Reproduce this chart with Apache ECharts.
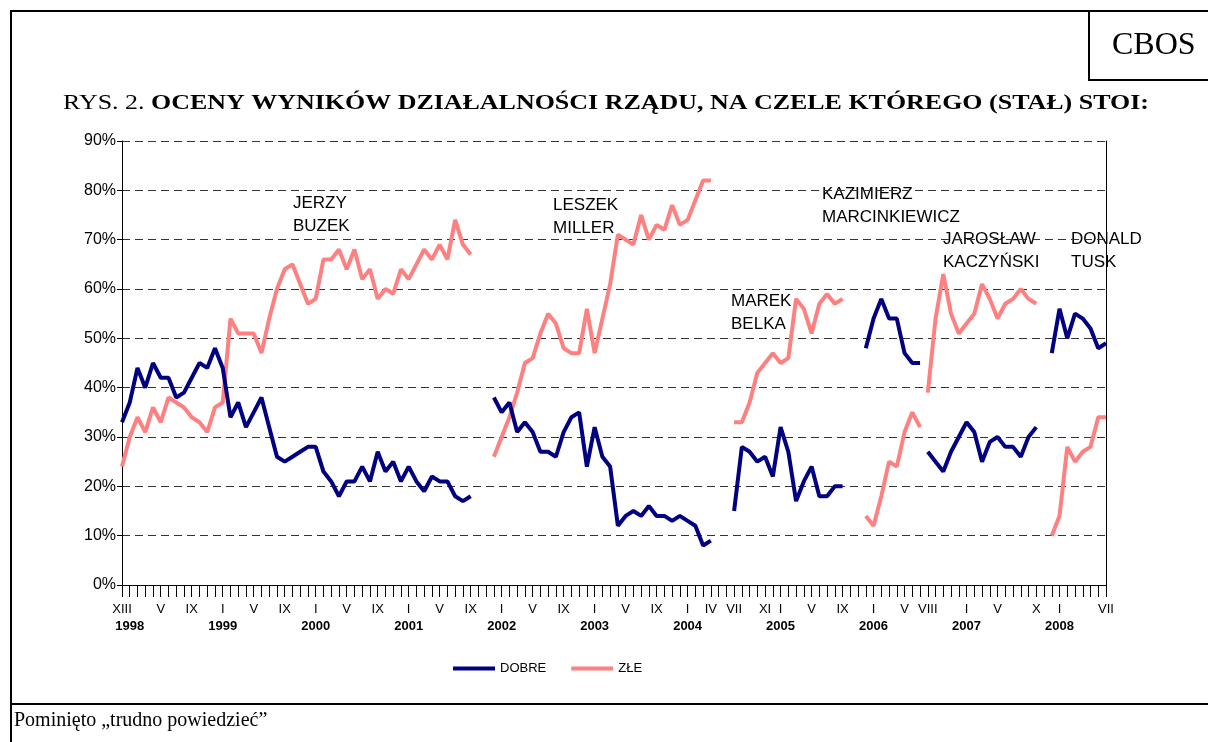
<!DOCTYPE html>
<html>
<head>
<meta charset="utf-8">
<script src="https://cdn.jsdelivr.net/npm/echarts@6/dist/echarts.min.js"></script>
<style>
  html, body { margin: 0; padding: 0; background: #fff; }
  #chart { width: 1208px; height: 742px; }
</style>
</head>
<body>
<div id="chart"></div>
<script>
// kolejne miesiące od XII 1997 do VII 2008
var months = [];
for (var yy = 1997; yy <= 2008; yy++) {
  for (var mm = 1; mm <= 12; mm++) {
    if ((yy === 1997 && mm < 12) || (yy === 2008 && mm > 7)) continue;
    months.push(yy + '-' + (mm < 10 ? '0' + mm : mm));
  }
}

// podpisy miesięcy na osi
var tickAt = ['1997-12', '1998-05', '1998-09', '1999-01', '1999-05', '1999-09',
  '2000-01', '2000-05', '2000-09', '2001-01', '2001-05', '2001-09',
  '2002-01', '2002-05', '2002-09', '2003-01', '2003-05', '2003-09',
  '2004-01', '2004-04', '2004-07', '2004-11', '2005-01', '2005-05', '2005-09',
  '2006-01', '2006-05', '2006-08', '2007-01', '2007-05', '2007-10',
  '2008-01', '2008-07'];
var tickText = ['XIII', 'V', 'IX', 'I', 'V', 'IX',
  'I', 'V', 'IX', 'I', 'V', 'IX',
  'I', 'V', 'IX', 'I', 'V', 'IX',
  'I', 'IV', 'VII', 'XI', 'I', 'V', 'IX',
  'I', 'V', 'VIII', 'I', 'V', 'X',
  'I', 'VII'];

// premierzy: pierwszy miesiąc, oceny dobre / złe (%)
var buzekStart = '1997-12';
var buzekDobre = [33, 37, 44, 40, 45, 42, 42, 38, 39, 42, 45, 44, 48, 44, 34, 37, 32, 35, 38, 32,
  26, 25, 26, 27, 28, 28, 23, 21, 18, 21, 21, 24, 21, 27, 23, 25, 21, 24, 21, 19,
  22, 21, 21, 18, 17, 18];
var buzekZle = [24, 30, 34, 31, 36, 33, 38, 37, 36, 34, 33, 31, 36, 37, 54, 51, 51, 51, 47, 54,
  60, 64, 65, 61, 57, 58, 66, 66, 68, 64, 68, 62, 64, 58, 60, 59, 64, 62, 65, 68,
  66, 69, 66, 74, 69, 67];

var millerStart = '2001-12';
var millerDobre = [38, 35, 37, 31, 33, 31, 27, 27, 26, 31, 34, 35, 24, 32, 26, 24,
  12, 14, 15, 14, 16, 14, 14, 13, 14, 13, 12, 8, 9];
var millerZle = [26, 30, 34, 39, 45, 46, 51, 55, 53, 48, 47, 47, 56, 47, 54, 61,
  71, 70, 69, 75, 70, 73, 72, 77, 73, 74, 78, 82, 82];

var belkaStart = '2004-07';
var belkaDobre = [15, 28, 27, 25, 26, 22, 32, 27, 17, 21, 24, 18, 18, 20, 20];
var belkaZle = [33, 33, 37, 43, 45, 47, 45, 46, 58, 56, 51, 57, 59, 57, 58];

var marcStart = '2005-12';
var marcDobre = [48, 54, 58, 54, 54, 47, 45, 45];
var marcZle = [14, 12, 18, 25, 24, 31, 35, 32];

var kaczStart = '2006-08';
var kaczDobre = [27, 25, 23, 27, 30, 33, 31, 25, 29, 30, 28, 28, 26, 30, 32];
var kaczZle = [39, 54, 63, 55, 51, 53, 55, 61, 58, 54, 57, 58, 60, 58, 57];

var tuskStart = '2007-12';
var tuskDobre = [47, 56, 50, 55, 54, 52, 48, 49];
var tuskZle = [10, 14, 28, 25, 27, 28, 34, 34];

var govs = [
  [buzekStart, buzekDobre, buzekZle],
  [millerStart, millerDobre, millerZle],
  [belkaStart, belkaDobre, belkaZle],
  [marcStart, marcDobre, marcZle],
  [kaczStart, kaczDobre, kaczZle],
  [tuskStart, tuskDobre, tuskZle]
];

function pad(start, values) {
  var out = [];
  var s = months.indexOf(start);
  for (var i = 0; i < months.length; i++) {
    var k = i - s;
    out.push(k >= 0 && k < values.length ? values[k] : null);
  }
  return out;
}

var series = [];
govs.forEach(function (g) {
  series.push({
    name: 'ZŁE', type: 'line', data: pad(g[0], g[2]),
    showSymbol: false, symbol: 'none', connectNulls: false,
    lineStyle: { color: '#FF8080', width: 4 }, itemStyle: { color: '#FF8080' }
  });
});
govs.forEach(function (g) {
  series.push({
    name: 'DOBRE', type: 'line', data: pad(g[0], g[1]),
    showSymbol: false, symbol: 'none', connectNulls: false,
    lineStyle: { color: '#000080', width: 4 }, itemStyle: { color: '#000080' }
  });
});

var SANS = 'Liberation Sans, Arial, sans-serif';
var SERIF = 'Liberation Serif, Times New Roman, serif';

var chart = echarts.init(document.getElementById('chart'), null, { renderer: 'canvas' });

function frameLine(x1, y1, x2, y2) {
  return { type: 'line', shape: { x1: x1, y1: y1, x2: x2, y2: y2 },
    style: { stroke: '#000', lineWidth: 2 }, silent: true };
}
function label(x, y, txt) {
  return { type: 'text', x: x, y: y, silent: true,
    style: { text: txt, font: '17px ' + SANS, fill: '#000', lineHeight: 23, textVerticalAlign: 'top' } };
}

var option = {
  animation: false,
  legend: {
    data: ['DOBRE', 'ZŁE'],
    left: 448, top: 657,
    icon: 'rect', itemWidth: 42, itemHeight: 4, itemGap: 25,
    textStyle: { fontFamily: SANS, fontSize: 13, color: '#000' }
  },
  grid: { left: 122, right: 102, top: 141, bottom: 157, containLabel: false },
  xAxis: {
    type: 'category',
    data: months,
    boundaryGap: false,
    axisLine: { lineStyle: { color: '#000', width: 1 } },
    axisTick: { show: true, interval: 0, length: 12, lineStyle: { color: '#000' } },
    axisLabel: {
      interval: 0, margin: 16,
      formatter: function (value) {
        var t = tickAt.indexOf(value);
        var m = t >= 0 ? tickText[t] : '';
        var jan = value.slice(5) === '01';
        if (!m && !jan) return '';
        if (jan) return '{m|' + (m || ' ') + '}\n{y|' + value.slice(0, 4) + '}';
        return '{m|' + m + '}';
      },
      rich: {
        m: { fontFamily: SANS, fontSize: 13, color: '#000', lineHeight: 17 },
        y: { fontFamily: SANS, fontSize: 13, fontWeight: 'bold', color: '#000', lineHeight: 17 }
      }
    },
    splitLine: { show: false }
  },
  yAxis: [{
    type: 'value', min: 0, max: 90, interval: 10,
    axisLine: { show: true, lineStyle: { color: '#000', width: 1 } },
    axisTick: { show: true, length: 5, lineStyle: { color: '#000' } },
    axisLabel: { formatter: '{value}%', fontFamily: SANS, fontSize: 16, color: '#000', margin: 6 },
    splitLine: { show: true, lineStyle: { color: '#333', type: [8, 5], width: 1 } }
  }, {
    type: 'value', position: 'right', min: 0, max: 90,
    axisLine: { show: true, lineStyle: { color: '#000', width: 1 } },
    axisTick: { show: false }, axisLabel: { show: false }, splitLine: { show: false }
  }],
  graphic: [
    frameLine(10, 11, 1208, 11),
    frameLine(11, 10, 11, 742),
    frameLine(10, 704, 1208, 704),
    frameLine(1089, 10, 1089, 81),
    frameLine(1088, 80, 1208, 80),
    { type: 'text', x: 1112, y: 46, silent: true,
      style: { text: 'CBOS', font: '32px ' + SERIF, fill: '#000', textVerticalAlign: 'middle' } },
    { type: 'text', x: 63, y: 103, scaleX: 1.18, silent: true,
      style: {
        text: '{n|RYS. 2. }{b|OCENY WYNIKÓW DZIAŁALNOŚCI RZĄDU, NA CZELE KTÓREGO (STAŁ) STOI:}',
        textVerticalAlign: 'middle',
        rich: {
          n: { fontFamily: SERIF, fontSize: 22, fill: '#000' },
          b: { fontFamily: SERIF, fontSize: 22, fontWeight: 'bold', fill: '#000' }
        }
      } },
    { type: 'text', x: 14, y: 721, silent: true,
      style: { text: 'Pominięto „trudno powiedzieć”', font: '20px ' + SERIF, fill: '#000', textVerticalAlign: 'middle' } },
    label(293, 192, 'JERZY\nBUZEK'),
    label(553, 194, 'LESZEK\nMILLER'),
    label(731, 290, 'MAREK\nBELKA'),
    label(822, 183, 'KAZIMIERZ\nMARCINKIEWICZ'),
    label(943, 228, 'JAROSŁAW\nKACZYŃSKI'),
    label(1071, 228, 'DONALD\nTUSK')
  ],
  series: series
};

chart.setOption(option);
</script>
</body>
</html>
